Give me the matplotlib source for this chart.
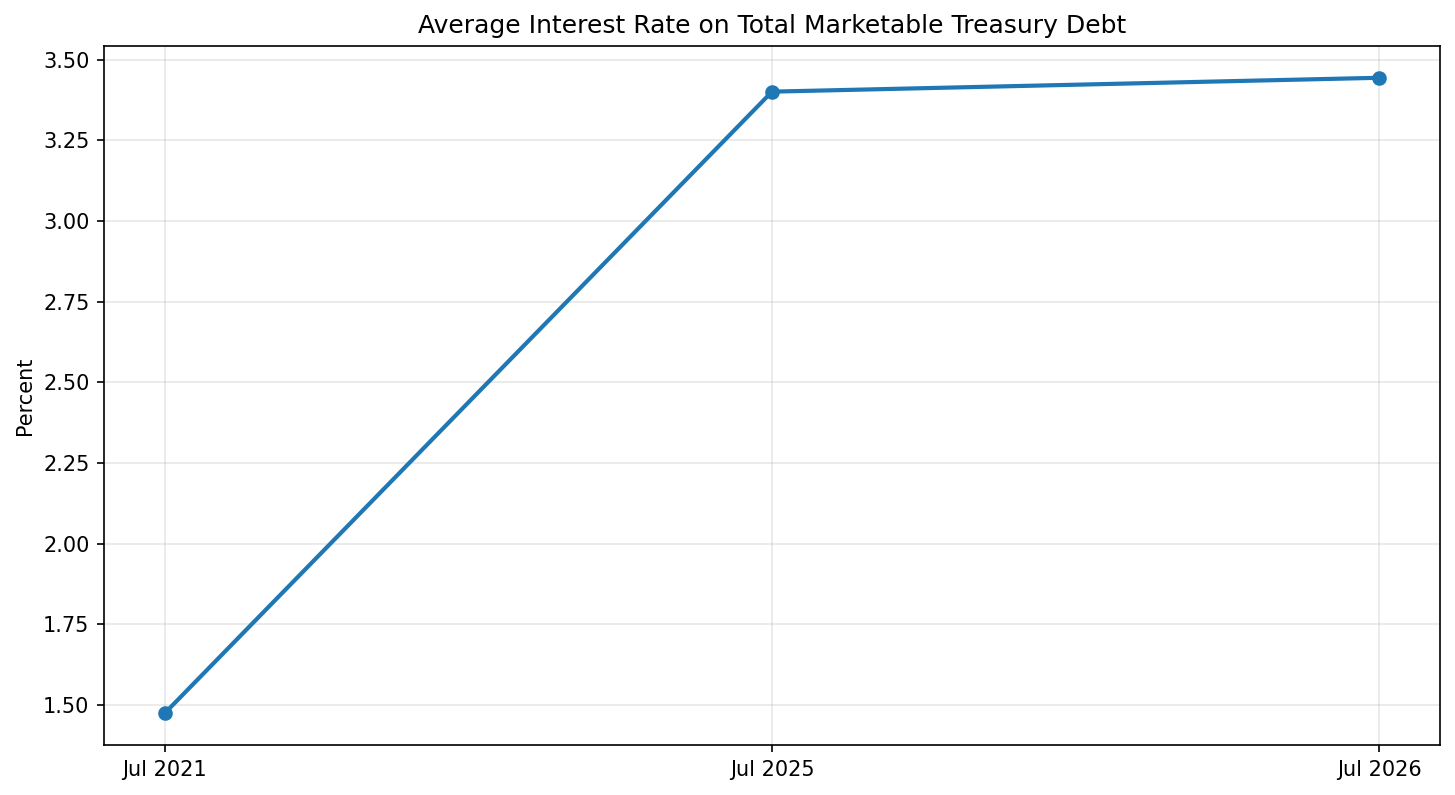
import matplotlib
matplotlib.use("Agg")
import matplotlib.pyplot as plt

# Data
labels = ["Jul 2021", "Jul 2025", "Jul 2026"]
rates = [1.475, 3.401, 3.444]

fig, ax = plt.subplots(figsize=(9.7, 5.3), dpi=150)
x = list(range(len(labels)))
ax.plot(x, rates, marker="o", linewidth=2.0, markersize=6, color="#1f77b4")
ax.set_xticks(x)
ax.set_xticklabels(labels)
ax.set_ylabel("Percent")
ax.set_title("Average Interest Rate on Total Marketable Treasury Debt")
ax.grid(True, alpha=0.3)

fig.subplots_adjust(left=104 / 1455, right=1440 / 1455, top=1 - 46 / 795, bottom=1 - 745 / 795)
plt.savefig("out.png", dpi=150)
